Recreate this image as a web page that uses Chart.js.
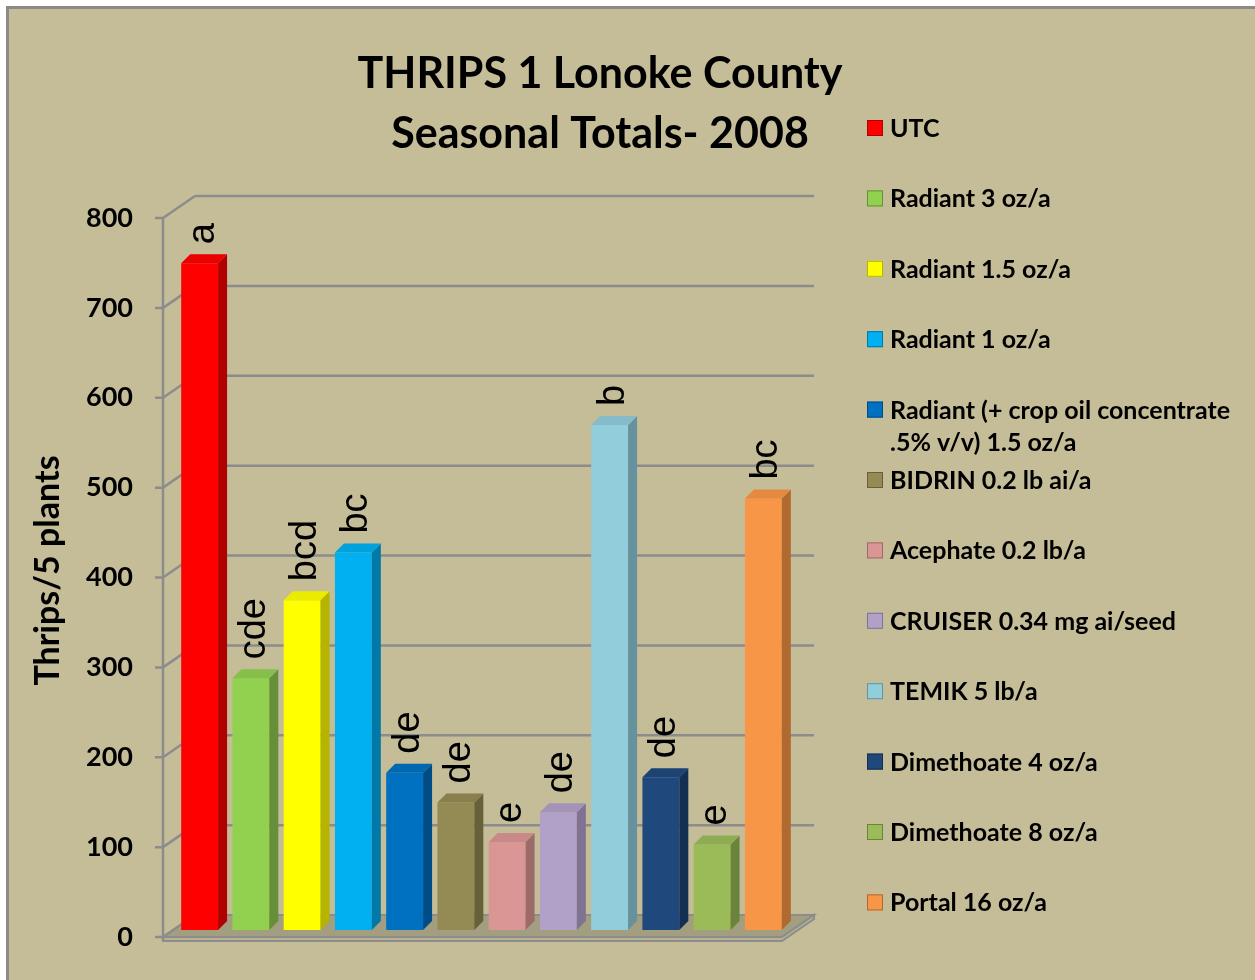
<!DOCTYPE html>
<html>
<head>
<meta charset="utf-8">
<script src="https://cdn.jsdelivr.net/npm/chart.js@4.4.1/dist/chart.umd.min.js"></script>
<style>
  html, body { margin: 0; padding: 0; background: #fff; }
  canvas { display: block; }
</style>
</head>
<body>
<canvas id="thrips" width="1255" height="980"></canvas>
<script>
// treatments, seasonal thrips totals and mean separation letters
var treatments = [
	'UTC',
	'Radiant 3 oz/a',
	'Radiant 1.5 oz/a',
	'Radiant 1 oz/a',
	'Radiant (+ crop oil concentrate\n.5% v/v) 1.5 oz/a',
	'BIDRIN 0.2 lb ai/a',
	'Acephate 0.2 lb/a',
	'CRUISER 0.34 mg ai/seed',
	'TEMIK 5 lb/a',
	'Dimethoate 4 oz/a',
	'Dimethoate 8 oz/a',
	'Portal 16 oz/a'
];
var thrips = [742, 280, 367, 420, 175, 142, 98, 131, 562, 170, 95, 480];
var letters = ['a', 'cde', 'bcd', 'bc', 'de', 'de', 'e', 'de', 'b', 'de', 'e', 'bc'];
var yTicks = [0, 100, 200, 300, 400, 500, 600, 700, 800];

var barColors = ['#ff0000', '#92d050', '#ffff00', '#00b0f0', '#0070c0', '#948a54',
	'#da9694', '#b1a0c7', '#92cddc', '#1f497d', '#9bbb59', '#f79646'];
var sideColors = ['#b00000', '#658f38', '#b5b500', '#0079a8', '#004c86', '#676039',
	'#9c6a69', '#7f7292', '#66929e', '#132f52', '#6b843c', '#b0692f'];

var GRID = '#8c8c8c';

// fake 3d frame: back wall, side wall, floor
var frame3d = {
	id: 'frame3d',
	beforeDraw(chart) {
		const c = chart.ctx;
		c.save();
		c.fillStyle = '#ffffff';
		c.fillRect(0, 0, chart.width, chart.height);
		c.fillStyle = '#c5bd98';
		c.fillRect(8, 8, chart.width - 8, chart.height - 8);
		c.strokeStyle = '#8a8a8a';
		c.lineWidth = 3;
		c.beginPath();
		c.moveTo(7.5, chart.height);
		c.lineTo(7.5, 7.5);
		c.lineTo(chart.width, 7.5);
		c.stroke();
		c.restore();
	},
	beforeDatasetsDraw(chart) {
		const c = chart.ctx, y = chart.scales.y, a = chart.chartArea;
		const fx = a.left - 11, bx = a.left + 21;
		const fxR = a.right - 7, bxR = a.right + 25;
		const fdy = 7, bdy = -15;
		const y0 = y.getPixelForValue(0);
		c.save();

		// floor slab
		c.fillStyle = '#a49e80';
		c.strokeStyle = GRID;
		c.lineWidth = 2;
		c.beginPath();
		c.moveTo(fx, y0 + fdy);
		c.lineTo(fxR, y0 + fdy);
		c.lineTo(bxR, y0 + bdy);
		c.lineTo(bx, y0 + bdy);
		c.closePath();
		c.fill();
		c.stroke();
		c.fillStyle = '#b8b18f';
		c.beginPath();
		c.moveTo(fx, y0 + fdy);
		c.lineTo(fxR, y0 + fdy);
		c.lineTo(bxR, y0 + bdy);
		c.lineTo(bxR, y0 + bdy + 4);
		c.lineTo(fxR, y0 + fdy + 4);
		c.lineTo(fx, y0 + fdy + 4);
		c.closePath();
		c.fill();
		c.stroke();

		// wall gridlines
		c.lineWidth = 2.5;
		yTicks.forEach(v => {
			const yy = y.getPixelForValue(v);
			c.beginPath();
			if (v > 0) {
				c.moveTo(bx, yy + bdy);
				c.lineTo(bxR, yy + bdy);
			}
			c.moveTo(fx, yy + fdy);
			c.lineTo(bx, yy + bdy);
			c.moveTo(fx - 8, yy + fdy);
			c.lineTo(fx, yy + fdy);
			c.stroke();
		});
		c.beginPath();
		c.moveTo(fx, y.getPixelForValue(yTicks[0]) + fdy + 4);
		c.lineTo(fx, y.getPixelForValue(yTicks[yTicks.length - 1]) + fdy);
		c.stroke();
		c.restore();
	},
	afterDatasetsDraw(chart) {
		const c = chart.ctx;
		const meta = chart.getDatasetMeta(0);
		const dx = 9, dy = 9;
		c.save();
		meta.data.forEach((bar, i) => {
			const p = bar.getProps(['x', 'y', 'base', 'width'], true);
			const l = p.x - p.width / 2, r = p.x + p.width / 2;
			// right side
			c.fillStyle = sideColors[i];
			c.beginPath();
			c.moveTo(r, p.y);
			c.lineTo(r + dx, p.y - dy);
			c.lineTo(r + dx, p.base - dy);
			c.lineTo(r, p.base);
			c.closePath();
			c.fill();
			// top
			c.fillStyle = barColors[i];
			c.beginPath();
			c.moveTo(l, p.y);
			c.lineTo(l + dx, p.y - dy);
			c.lineTo(r + dx, p.y - dy);
			c.lineTo(r, p.y);
			c.closePath();
			c.fill();
			c.fillStyle = 'rgba(0,0,0,0.08)';
			c.fill();

			// letters, rotated
			c.save();
			c.translate(p.x + 14, p.y - 19);
			c.rotate(-Math.PI / 2);
			c.font = '38px "Liberation Sans"';
			c.fillStyle = '#000';
			c.textAlign = 'left';
			c.textBaseline = 'alphabetic';
			c.fillText(letters[i], 0, 0);
			c.restore();
		});
		c.restore();
	},
	afterDraw(chart) {
		const c = chart.ctx;
		c.save();
		// title
		c.fillStyle = '#000';
		c.textAlign = 'center';
		c.textBaseline = 'alphabetic';
		c.font = 'bold 43px Lato';
		c.fillText('THRIPS 1 Lonoke County', 600, 88);
		c.fillText('Seasonal Totals- 2008', 600, 148);

		// legend
		c.font = 'bold 25px Lato';
		c.textAlign = 'left';
		c.textBaseline = 'middle';
		treatments.forEach((t, i) => {
			const cy = 128 + i * 70.4;
			c.fillStyle = barColors[i];
			c.fillRect(867, cy - 8, 16, 16);
			c.strokeStyle = sideColors[i];
			c.lineWidth = 1;
			c.strokeRect(867.5, cy - 7.5, 15, 15);
			c.fillStyle = '#000';
			t.split('\n').forEach((line, k) => {
				c.fillText(line, 890, cy + 1 + k * 32);
			});
		});
		c.restore();
	}
};

new Chart(document.getElementById('thrips'), {
	type: 'bar',
	data: {
		labels: treatments,
		datasets: [
			{
				data: thrips,
				backgroundColor: barColors,
				borderWidth: 0,
				barPercentage: 0.72,
				categoryPercentage: 1
			}
		]
	},
	options: {
		responsive: false,
		animation: false,
		layout: { padding: { left: 6, top: 211, right: 466, bottom: 50 } },
		plugins: {
			legend: { display: false },
			tooltip: { enabled: false }
		},
		scales: {
			x: { display: false },
			y: {
				min: yTicks[0],
				max: yTicks[yTicks.length - 1],
				grid: { display: false, drawTicks: false },
				border: { display: false },
				ticks: {
					stepSize: 100,
					padding: 41,
					labelOffset: 7,
					color: '#000',
					font: { family: 'Lato', weight: 'bold', size: 27 }
				},
				title: {
					display: true,
					text: 'Thrips/5 plants',
					color: '#000',
					padding: { top: 22 },
					font: { family: 'Lato', weight: 'bold', size: 34 }
				},
				afterFit(scale) {
					scale.width = 168;
					scale.paddingTop = 0;
					scale.paddingBottom = 0;
				}
			}
		}
	},
	plugins: [frame3d]
});
</script>
</body>
</html>
